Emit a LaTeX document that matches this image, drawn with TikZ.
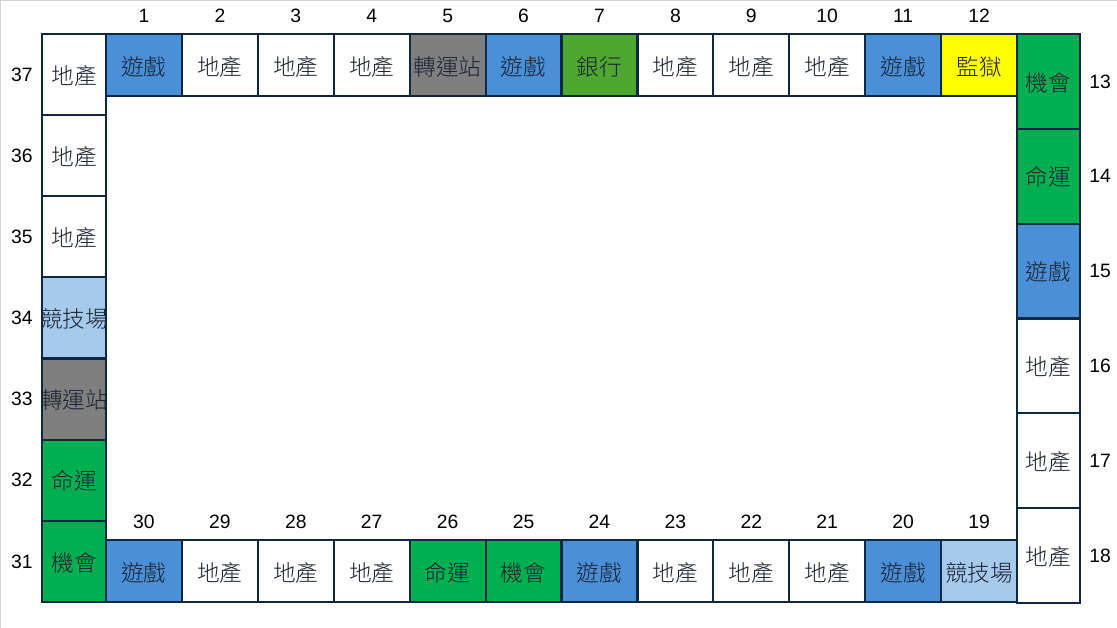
\documentclass[tikz,border=0pt]{standalone}
\usepackage{fontspec}
\setmainfont{Liberation Sans}
\newfontfamily\cjk{Noto Sans CJK TC}[UprightFont={* Light}]
\usepackage{xcolor}
\usepackage{tikz}
\definecolor{edge}{HTML}{0E2841}
\definecolor{ink}{HTML}{1A2230}
\definecolor{game}{HTML}{4A90D9}
\definecolor{arena}{HTML}{A6CAEC}
\definecolor{transit}{HTML}{7F7F7F}
\definecolor{luck}{HTML}{00B050}
\definecolor{bank}{HTML}{4EA72E}
\definecolor{jail}{HTML}{FFFF00}
\definecolor{land}{HTML}{FFFFFF}
\begin{document}
\begin{tikzpicture}[x=0.75pt, y=-0.75pt,
    cell/.style={draw=edge, line width=1.6pt},
    lab/.style={font=\cjk\fontsize{17}{17}\selectfont, text=ink},
    num/.style={font=\fontsize{14.5}{14.5}\selectfont, text=black}]
    \useasboundingbox (0,0) rectangle (1117,628);
    \draw[gray!35] (0.5,628) -- (0.5,0.5) -- (1117,0.5);
    % top row
    \foreach \n/\lab/\col [count=\i from 0] in {1/遊戲/game, 2/地產/land, 3/地產/land, 4/地產/land, 5/轉運站/transit, 6/遊戲/game, 7/銀行/bank, 8/地產/land, 9/地產/land, 10/地產/land, 11/遊戲/game, 12/監獄/jail} {
        \pgfmathsetmacro\xa{106+75.92*\i}
        \pgfmathsetmacro\xb{\xa+75.92}
        \draw[cell, fill=\col] (\xa,34) rectangle (\xb,96);
        \node[lab] (c\n) at ({(\xa+\xb)/2},67) {\lab};
        \node[num] (n\n) at ({(\xa+\xb)/2},16) {\n};
    }
    % bottom row
    \foreach \n/\lab/\col [count=\i from 0] in {30/遊戲/game, 29/地產/land, 28/地產/land, 27/地產/land, 26/命運/luck, 25/機會/luck, 24/遊戲/game, 23/地產/land, 22/地產/land, 21/地產/land, 20/遊戲/game, 19/競技場/arena} {
        \pgfmathsetmacro\xa{106+75.92*\i}
        \pgfmathsetmacro\xb{\xa+75.92}
        \draw[cell, fill=\col] (\xa,540) rectangle (\xb,602);
        \node[lab] (c\n) at ({(\xa+\xb)/2},573) {\lab};
        \node[num] (n\n) at ({(\xa+\xb)/2},522) {\n};
    }
    % left column
    \foreach \n/\lab/\col [count=\i from 0] in {37/地產/land, 36/地產/land, 35/地產/land, 34/競技場/arena, 33/轉運站/transit, 32/命運/luck, 31/機會/luck} {
        \pgfmathsetmacro\ya{34+81.14*\i}
        \pgfmathsetmacro\yb{\ya+81.14}
        \draw[cell, fill=\col] (42,\ya) rectangle (106,\yb);
        \node[lab] (c\n) at (74,{(\ya+\yb)/2+1}) {\lab};
        \node[num] (n\n) at (22,{(\ya+\yb)/2}) {\n};
    }
    % right column
    \foreach \n/\lab/\col [count=\i from 0] in {13/機會/luck, 14/命運/luck, 15/遊戲/game, 16/地產/land, 17/地產/land, 18/地產/land} {
        \pgfmathsetmacro\ya{34+94.83*\i}
        \pgfmathsetmacro\yb{\ya+94.83}
        \draw[cell, fill=\col] (1017,\ya) rectangle (1080,\yb);
        \node[lab] (c\n) at (1048.5,{(\ya+\yb)/2+1}) {\lab};
        \node[num] (n\n) at (1100,{(\ya+\yb)/2}) {\n};
    }
\end{tikzpicture}
\end{document}
